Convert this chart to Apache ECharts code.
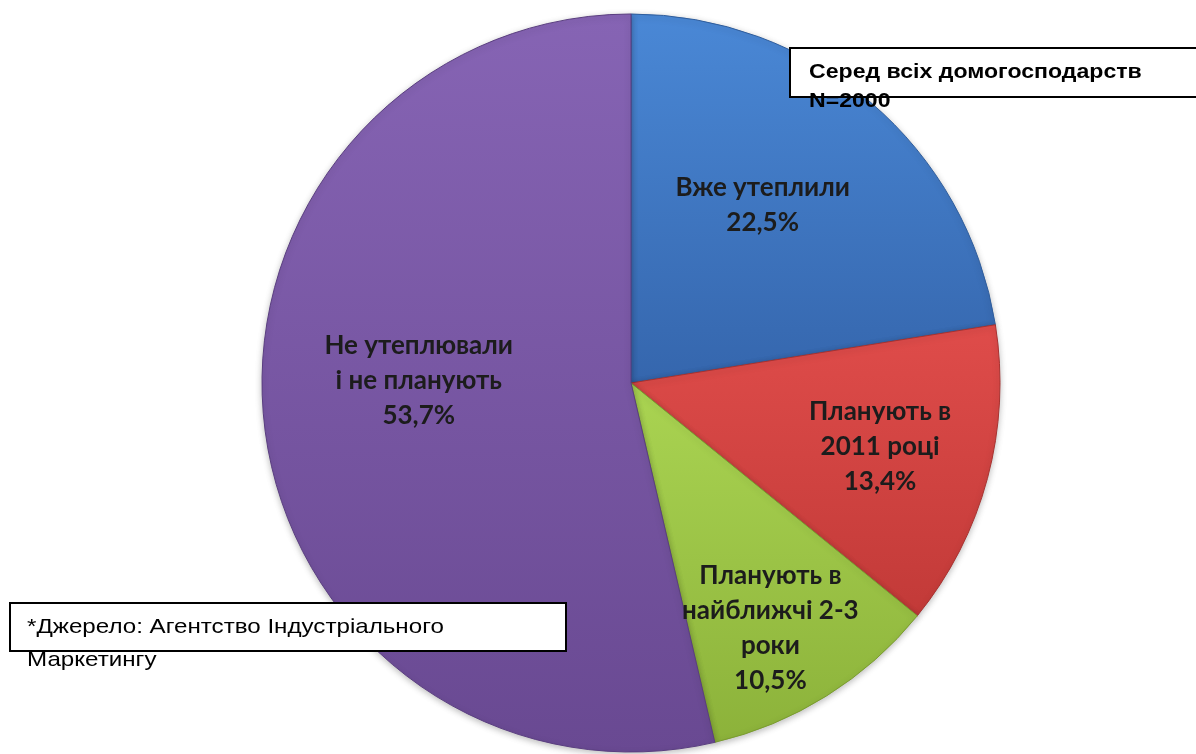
<!DOCTYPE html>
<html>
<head>
<meta charset="utf-8">
<script src="https://cdn.jsdelivr.net/npm/echarts@6/dist/echarts.min.js"></script>
<style>
html,body{margin:0;padding:0;background:#fff;}
#chart{width:1196px;height:754px;}
</style>
</head>
<body>
<div id="chart"></div>
<script>
// Data
var categories = ['Вже утеплили', 'Планують в\n2011 році', 'Планують в\nнайближчі 2-3\nроки', 'Не утеплювали\nі не планують'];
var values = [22.5, 13.4, 10.5, 53.7];
var titleLines = ['Серед всіх домогосподарств', 'N=2000'];
var sourceLines = ['*Джерело: Агентство Індустріального', 'Маркетингу'];

// Styles
var colorsTop = ['#4a88d6', '#df4c4a', '#aad452', '#8664b4'];
var colorsBottom = ['#3566ad', '#c23a38', '#8cb23a', '#694992'];
var borderColors = ['#2f5d9c', '#a83230', '#7a9c30', '#5a3e80'];
var labelShift = [[10, -35], [68, 15], [40, 86], [-26, -24]];

var chart = echarts.init(document.getElementById('chart'));

var data = categories.map(function (c, i) {
  return {
    name: c,
    value: values[i],
    itemStyle: {
      color: new echarts.graphic.LinearGradient(0, 0, 0, 1, [
        {offset: 0, color: colorsTop[i]},
        {offset: 1, color: colorsBottom[i]}
      ]),
      borderColor: borderColors[i],
      borderWidth: 1
    }
  };
});

chart.setOption({
  animation: false,
  backgroundColor: '#ffffff',
  series: [{
    type: 'pie',
    center: [631, 383],
    radius: [0, 369],
    startAngle: 90,
    clockwise: true,
    avoidLabelOverlap: false,
    data: data,
    itemStyle: {
      shadowBlur: 6,
      shadowColor: 'rgba(0,0,0,0.25)',
      shadowOffsetY: 2
    },
    label: {
      show: true,
      position: 'inside',
      color: '#1c1c1c',
      fontFamily: 'Lato',
      fontWeight: 'bold',
      fontSize: 26,
      lineHeight: 35,
      align: 'center',
      formatter: function (p) {
        return p.name + '\n' + String(p.value).replace('.', ',') + '%';
      }
    },
    labelLine: {show: false},
    labelLayout: function (params) {
      var s = labelShift[params.dataIndex];
      return {dx: s[0], dy: s[1]};
    },
    emphasis: {disabled: true}
  }],
  graphic: [
    {
      type: 'rect',
      shape: {x: 790, y: 48, width: 440, height: 49},
      style: {fill: '#ffffff', stroke: '#000000', lineWidth: 2},
      z: 10
    },
    {
      type: 'text',
      x: 809, y: 57.5,
      scaleX: 1.1,
      style: {
        text: titleLines.join('\n'),
        font: 'bold 21px "Liberation Sans", Arial, sans-serif',
        lineHeight: 29,
        fill: '#000000'
      },
      z: 11
    },
    {
      type: 'rect',
      shape: {x: 10, y: 603, width: 556, height: 48},
      style: {fill: '#ffffff', stroke: '#000000', lineWidth: 2},
      z: 10
    },
    {
      type: 'text',
      x: 27, y: 610.5,
      scaleX: 1.15,
      style: {
        text: sourceLines.join('\n'),
        font: '21px "Liberation Sans", Arial, sans-serif',
        lineHeight: 33,
        fill: '#000000'
      },
      z: 11
    }
  ]
});
</script>
</body>
</html>
